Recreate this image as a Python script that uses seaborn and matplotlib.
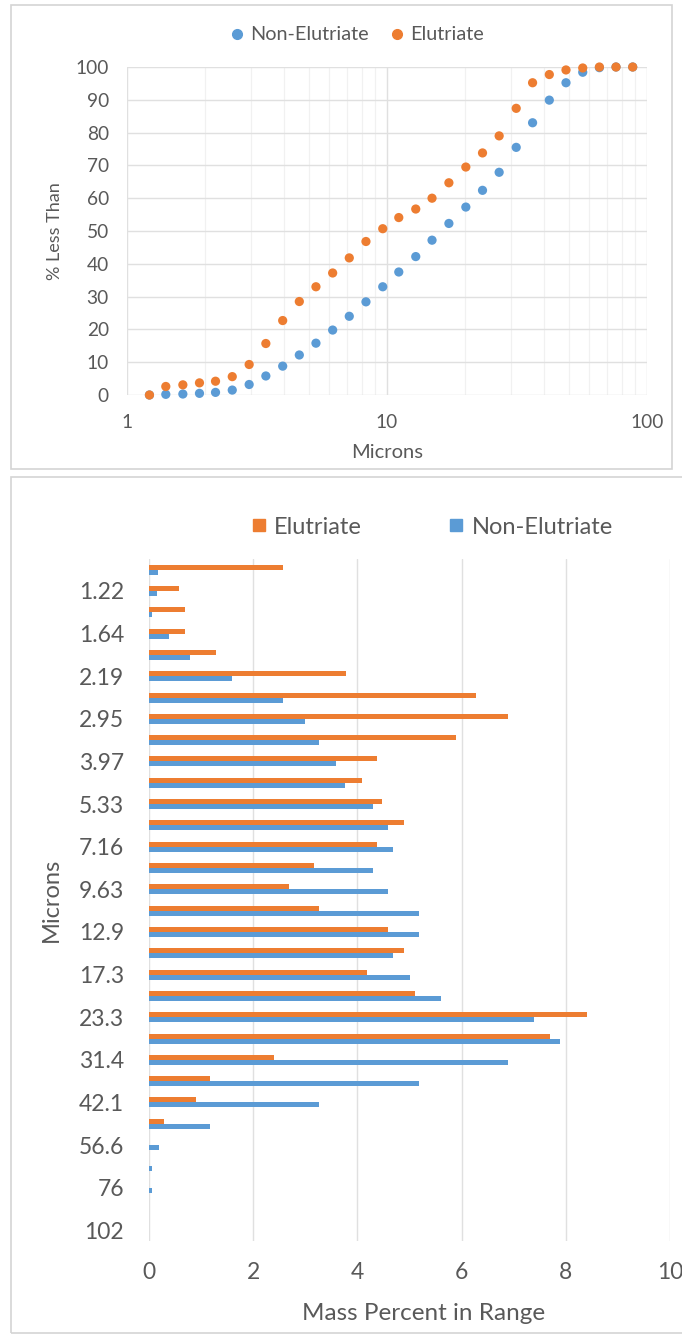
import matplotlib
matplotlib.use("Agg")
import matplotlib.pyplot as plt
import seaborn as sns
import pandas as pd
from matplotlib.patches import Rectangle
from matplotlib.lines import Line2D
from matplotlib.ticker import FixedLocator, NullFormatter, FuncFormatter

# Particle-size channels (microns), smallest first
sizes = ["1.05", "1.22", "1.41", "1.64", "1.90", "2.19", "2.54", "2.95",
         "3.42", "3.97", "4.60", "5.33", "6.18", "7.16", "8.30", "9.63",
         "11.1", "12.9", "14.9", "17.3", "20.1", "23.3", "27.0", "31.4",
         "36.3", "42.1", "48.8", "56.6", "65.6", "76", "88.1", "102"]

# Cumulative % less than, at channels 1.22 ... 88.1
cum_non_elutriate = [0, 0.2, 0.3, 0.5, 0.8, 1.5, 3.2, 5.8, 8.8, 12.2,
                     15.8, 19.8, 24.0, 28.4, 33.0, 37.5, 42.2, 47.2, 52.3, 57.3,
                     62.4, 67.9, 75.5, 83.0, 89.9, 95.2, 98.4, 99.8, 100, 100]
cum_elutriate = [0, 2.6, 3.1, 3.7, 4.2, 5.6, 9.3, 15.7, 22.7, 28.5,
                 33.0, 37.2, 41.8, 46.8, 50.7, 54.1, 56.7, 60.0, 64.7, 69.5,
                 73.8, 79.0, 87.4, 95.2, 97.7, 99.1, 99.7, 100, 100, 100]

# Mass percent in each channel
mass_elutriate = [2.58, 0.57, 0.69, 0.69, 1.28, 3.78, 6.28, 6.90, 5.89, 4.38,
                  4.09, 4.48, 4.90, 4.38, 3.17, 2.68, 3.27, 4.58, 4.90, 4.19,
                  5.10, 8.40, 7.70, 2.40, 1.18, 0.90, 0.29, 0, 0, 0, 0, 0]
mass_non_elutriate = [0.18, 0.16, 0.06, 0.39, 0.79, 1.59, 2.58, 3.00, 3.27, 3.59,
                      3.77, 4.30, 4.58, 4.69, 4.30, 4.58, 5.19, 5.19, 4.69, 5.00,
                      5.60, 7.39, 7.89, 6.90, 5.19, 3.27, 1.18, 0.19, 0.06, 0.06, 0, 0]

BLUE = "#5B9BD5"
ORANGE = "#ED7D31"
TEXT = "#595959"
GRID = "#E0E0E0"
MINOR = "#F1F1F1"

sns.set_theme(style="white")
plt.rcParams["font.family"] = ["Lato", "DejaVu Sans"]

W, H = 682, 1335
fig = plt.figure(figsize=(W / 100, H / 100), dpi=100)


def box(x0, y0, x1, y1):
    """Pixel box (top-left origin) -> figure fraction rect."""
    return [x0 / W, 1 - y1 / H, (x1 - x0) / W, (y1 - y0) / H]


# Chart frames
for x0, y0, x1, y1 in [(11, 5, 672, 469), (11, 477, 700, 1333)]:
    l, b, w, h = box(x0, y0, x1, y1)
    fig.patches.append(Rectangle((l, b), w, h, transform=fig.transFigure,
                                 fill=False, edgecolor="#D4D4D4", lw=1.2))

# ---- Cumulative distribution (log x) ----
ax1 = fig.add_axes(box(127, 67, 647, 395))
scat_x = [float(s) for s in sizes[1:31]]
df_cum = pd.DataFrame({
    "size": scat_x * 2,
    "pct": cum_non_elutriate + cum_elutriate,
    "series": ["Non-Elutriate"] * len(scat_x) + ["Elutriate"] * len(scat_x),
})
sns.scatterplot(data=df_cum, x="size", y="pct", hue="series",
                palette={"Non-Elutriate": BLUE, "Elutriate": ORANGE},
                s=44, linewidth=0, legend=False, ax=ax1, zorder=3, clip_on=False)
ax1.set_xscale("log")
ax1.set_xlim(1, 100)
ax1.set_ylim(0, 100)
ax1.set_yticks(range(0, 101, 10))
ax1.xaxis.set_major_locator(FixedLocator([1, 10, 100]))
ax1.xaxis.set_minor_locator(FixedLocator([k * 10 ** d for d in (0, 1) for k in range(2, 10)]))
ax1.xaxis.set_major_formatter(FuncFormatter(lambda v, p: f"{v:g}"))
ax1.xaxis.set_minor_formatter(NullFormatter())
ax1.grid(True, which="major", color=GRID, lw=1)
ax1.grid(True, which="minor", axis="x", color=MINOR, lw=0.9)
for sp in ax1.spines.values():
    sp.set_visible(False)
ax1.tick_params(which="both", length=0, colors=TEXT, labelsize=13.8)
ax1.tick_params(axis="y", pad=13)
ax1.tick_params(axis="x", pad=14)
ax1.set_xlabel("Microns", color=TEXT, fontsize=14.5, labelpad=9)
ax1.set_ylabel("% Less Than", color=TEXT, fontsize=13, labelpad=9)

h1 = [Line2D([], [], marker="o", ls="", color=BLUE, markersize=7),
      Line2D([], [], marker="o", ls="", color=ORANGE, markersize=7)]
fig.legend(h1, ["Non-Elutriate", "Elutriate"], loc="center",
           bbox_to_anchor=(355 / W, 1 - 35 / H), ncol=2, frameon=False,
           fontsize=14.3, labelcolor=TEXT, handletextpad=0.1,
           columnspacing=0.85, handlelength=1.1)

# ---- Mass percent per channel (horizontal bars) ----
ax2 = fig.add_axes(box(149, 559, 670, 1241))
df_mass = pd.DataFrame({
    "size": sizes * 2,
    "pct": mass_elutriate + mass_non_elutriate,
    "series": ["Elutriate"] * len(sizes) + ["Non-Elutriate"] * len(sizes),
})
sns.barplot(data=df_mass, x="pct", y="size", hue="series",
            hue_order=["Elutriate", "Non-Elutriate"], order=sizes,
            palette=[ORANGE, BLUE], orient="h", width=0.47, saturation=1,
            errorbar=None, legend=False, linewidth=0, ax=ax2, zorder=3)
ax2.set_xlim(0, 10)
ax2.set_ylim(len(sizes) - 0.5, -0.5)
ax2.set_xticks(range(0, 11, 2))
ax2.set_yticks(range(len(sizes)))
ax2.set_yticklabels([s if i % 2 == 1 else "" for i, s in enumerate(sizes)])
ax2.grid(True, axis="x", color=GRID, lw=1)
ax2.grid(False, axis="y")
for sp in ax2.spines.values():
    sp.set_visible(False)
ax2.tick_params(length=0, colors=TEXT, labelsize=16.5)
ax2.tick_params(axis="y", pad=18)
ax2.tick_params(axis="x", pad=15)
ax2.set_xlabel("Mass Percent in Range", color=TEXT, fontsize=17.5)
ax2.xaxis.set_label_coords((424 - 149) / (670 - 149), -(1313 - 1241) / (1241 - 559))
ax2.xaxis.label.set_va("center")
ax2.set_ylabel("Microns", color=TEXT, fontsize=17, labelpad=12)

h2 = [Line2D([], [], marker="s", ls="", color=ORANGE, markersize=8),
      Line2D([], [], marker="s", ls="", color=BLUE, markersize=8)]
fig.legend(h2, ["Elutriate", "Non-Elutriate"], loc="center",
           bbox_to_anchor=(430 / W, 1 - 527 / H), ncol=2, frameon=False,
           fontsize=17, labelcolor=TEXT, handletextpad=0.15,
           columnspacing=3.5, handlelength=1.0)

fig.savefig("out.png", dpi=100, facecolor="white")
